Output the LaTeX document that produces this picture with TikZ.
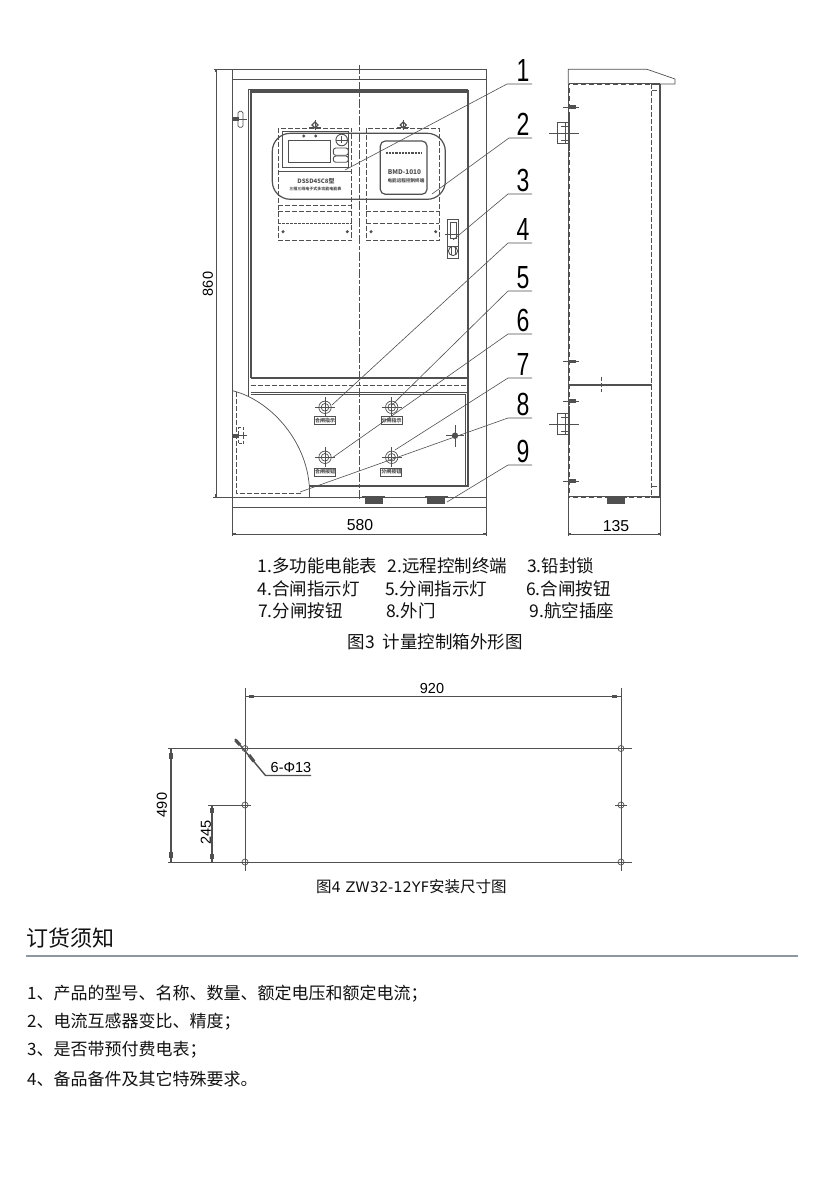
\documentclass[tikz,border=0pt]{standalone}
\usepackage{fontspec}
\setmainfont{Noto Sans CJK SC}
\newfontfamily\cadfont{Liberation Sans}
\newfontfamily\latinwide{DejaVu Sans}
\usetikzlibrary{calc}
\definecolor{cad}{HTML}{505050}
\definecolor{txt}{HTML}{111111}
\definecolor{rulegray}{HTML}{8F989F}
\tikzset{
 thinline/.style={draw=cad,line width=0.7pt},
 heavyline/.style={draw=cad,line width=2.2pt},
 midline/.style={draw=cad,line width=1.2pt},
 dimline/.style={draw=cad,line width=1.4pt},
 dashline/.style={draw=cad,line width=0.8pt,dash pattern=on 5pt off 2pt},
 dashheavy/.style={draw=cad,line width=1.3pt,dash pattern=on 3pt off 1pt},
 centerl/.style={draw=cad,line width=0.7pt,dash pattern=on 9pt off 2pt on 4pt off 2pt},
 leaderline/.style={draw=cad,line width=0.6pt},
 tickline/.style={draw=cad,line width=2pt},
 bigtick/.style={draw=cad,line width=3.2pt},
 legendtext/.style={text=txt,anchor=west,inner sep=0pt,font=\fontsize{17.5}{17.5}\selectfont},
 listitem/.style={text=txt,anchor=west,inner sep=0pt,font=\fontsize{17}{17}\selectfont},
 digittext/.style={text=black,anchor=base,inner sep=0pt,font=\cadfont\fontsize{32}{32}\selectfont,xscale=0.72},
 dimtext/.style={text=black,inner sep=0pt,font=\cadfont\fontsize{14.5}{14.5}\selectfont},
 dimbig/.style={text=black,inner sep=0pt,font=\cadfont\fontsize{15.8}{15.8}\selectfont},
 tinytext/.style={text=cad,inner sep=0pt},
 plate/.style={draw=cad,line width=0.7pt,minimum width=21pt,minimum height=8pt,inner sep=0pt,text=cad,font=\bfseries\fontsize{5}{5}\selectfont},
}
\newcommand{\btnmark}[1]{%
 \draw[thinline] (#1) circle (6.2);
 \draw[thinline] (#1) circle (3.8);
 \draw[thinline] ($(#1)+(-10,0)$) -- ($(#1)+(10,0)$);
 \draw[thinline] ($(#1)+(0,-10)$) -- ($(#1)+(0,10)$);
}
\newcommand{\holemark}[1]{%
 \draw[thinline] (#1) circle (3);
}
\newcommand{\capmark}[1]{%
 \draw[midline] ($(#1)+(-3,0)$) -- ($(#1)+(0,-3)$) -- ($(#1)+(3,0)$) -- ($(#1)+(0,3)$) -- cycle;
 \draw[thinline] ($(#1)+(-6,2)$) -- ($(#1)+(6,2)$);
 \draw[thinline] ($(#1)+(0,-5)$) -- ($(#1)+(0,5)$);
}
\newcommand{\sidehinge}[1]{%
 \draw[thinline] ($(#1)+(-6,0)$) -- ($(#1)+(10,0)$);
 \fill[cad] ($(#1)+(0,-1.7)$) rectangle ($(#1)+(7,1.7)$);
}
\newcommand{\sidelock}[1]{%
 \draw[thinline] ($(#1)+(-12,-10.5)$) rectangle ($(#1)+(0,10.5)$);
 \draw[thinline] ($(#1)+(-8,-7)$) -- ($(#1)+(0,-7)$);
 \draw[thinline] ($(#1)+(-8,7)$) -- ($(#1)+(0,7)$);
 \draw[thinline] ($(#1)+(-4,-10.5)$) -- ($(#1)+(-4,10.5)$);
 \draw[thinline] ($(#1)+(-20,0)$) -- ($(#1)+(10,0)$);
 \draw[draw=cad,line width=1.5pt] ($(#1)+(0.5,-18)$) -- ($(#1)+(0.5,18)$);
}
\newcommand{\plugmark}[1]{%
 \fill[cad] ($(#1)+(-9,0)$) rectangle ($(#1)+(9,6.5)$);
 \draw[midline] ($(#1)+(-11,0)$) -- ($(#1)+(-11,-1.5)$);
 \draw[midline] ($(#1)+(11,0)$) -- ($(#1)+(11,-1.5)$);
 \draw[midline] ($(#1)+(-11,0)$) -- ($(#1)+(11,0)$);
}
\begin{document}
\begin{tikzpicture}[x=1pt,y=-1pt]
\useasboundingbox (0,0) rectangle (827,1182);
\fill[white] (0,0) rectangle (827,1182);

%%% FRONT VIEW
\draw[thinline] (232.5,69.3) rectangle (486.7,507.3);
\draw[thinline] (232.5,79.3) -- (486.7,79.3);
\draw[thinline] (232.5,507.3) -- (232.5,536);
\draw[thinline] (486.7,507.3) -- (486.7,536);
\draw[thinline] (214,69.3) -- (232.5,69.3);
\draw[thinline] (213,497) -- (486.7,497);
\draw[thinline] (216,69.3) -- (216,497);
\draw[tickline] (216,69.3) -- (216,72);
\draw[tickline] (216,494) -- (216,497);
\draw[thinline] (232.5,534) -- (486.7,534);
\draw[tickline] (232.5,534) -- (236,534);
\draw[tickline] (483,534) -- (486.7,534);
\node[dimtext,rotate=90] (dimA) at (208,284) {860};
\node[dimbig] (dimB) at (360,525) {580};

% centre line
\draw[centerl] (359.3,65) -- (359.3,501);

% door frame
\draw[thinline] (248.7,89.3) -- (468.3,89.3);
\draw[thinline] (248.7,89.3) -- (248.7,397);
\draw[heavyline] (250.7,91.5) -- (467.7,91.5);
\draw[heavyline] (250.7,90.5) -- (250.7,378);
\draw[heavyline] (467.7,90.5) -- (467.7,486.5);
\draw[heavyline] (250.7,378) -- (467.7,378);
\draw[dashline] (250.7,385) -- (467,385);
\draw[thinline] (250.7,392.7) -- (467,392.7);
\draw[thinline] (250.7,394) -- (465.3,394);
\draw[thinline] (465.3,394) -- (465.3,486);
\draw[heavyline] (309.3,486) -- (468.7,486);
\draw[thinline] (309.3,486) -- (309.3,497);
\draw[thinline] (232.5,390.7) .. controls (270,400) and (306,440) .. (309.3,486);
\draw[dashline] (236.3,391.7) -- (236.3,493.3) -- (301,493.3);

% meters (dashed housings)
\draw[dashline] (278.3,128.3) rectangle (351.7,240.7);
\draw[dashline] (366.3,128.3) rectangle (439.3,240.7);
\draw[dashline] (278.3,205.7) -- (351.7,205.7);
\draw[dashline] (278.3,211) -- (351.7,211);
\draw[dashheavy] (278.3,223.3) -- (351.7,223.3);
\draw[dashline] (366.3,211) -- (439.3,211);
\draw[dashline] (366.3,223.3) -- (439.3,223.3);
\draw[midline,rounded corners=18pt] (272.3,133.3) rectangle (445.3,199.3);
\draw[thinline] (282.3,131) rectangle (348.3,167.3);
\draw[thinline] (278.3,171.3) -- (351.7,171.3);
\draw[thinline,line width=0.9pt] (288.3,140.3) rectangle (330.3,162.3);
\fill[cad] (303.7,136) circle (1.6);
\fill[cad] (315.7,136) circle (1.6);
\draw[thinline,line width=0.9pt] (341.7,140) circle (5.8);
\draw[thinline] (336,140) -- (347.5,140);
\draw[thinline] (341.7,136) -- (341.7,143);
\draw[thinline,line width=0.9pt,rounded corners=2.5pt] (333.3,148) rectangle (348.3,155.3);
\draw[thinline,line width=0.9pt,rounded corners=2.5pt] (333.3,156) rectangle (348.3,162.3);
\node[tinytext,font=\bfseries\fontsize{6}{6}\selectfont] (meterA) at (316,180.7) {DSSD45C8型};
\node[tinytext,font=\bfseries\fontsize{4}{4}\selectfont] (meterB) at (315.3,189.3) {三相三线电子式多功能电能表};
\draw[midline,rounded corners=5pt] (380.3,141) rectangle (427,194.3);
\draw[draw=cad,line width=2.2pt,dash pattern=on 2.2pt off 1pt] (385.7,152.7) -- (422.3,152.7);
\node[tinytext,font=\bfseries\fontsize{6.5}{6.5}\selectfont] (termA) at (404.5,172) {BMD-1010};
\node[tinytext,font=\bfseries\fontsize{4.6}{4.6}\selectfont] (termB) at (406,180.7) {电能远程控制终端};
\fill[cad] (283,231.7) circle (1.7);
\fill[cad] (347.3,231.7) circle (1.7);
\fill[cad] (371,231.7) circle (1.7);
\fill[cad] (435.7,231.7) circle (1.7);
\capmark{315,125}
\capmark{403.3,125}

% seal lock
\draw[midline] (447.3,219.3) rectangle (458.7,258.7);
\draw[thinline] (450,222.7) rectangle (456.7,238.3);
\draw[thinline] (447.3,246) -- (458.7,246);
\draw[thinline,line width=0.9pt] (453,251) circle (4.6);
\draw[thinline] (451,247) -- (451,255);
\draw[thinline] (455,247) -- (455,255);
\draw[thinline] (445,234.5) -- (458,234.5);

% left hinges
\fill[cad] (233,117.3) rectangle (239,121.3);
\draw[thinline,rounded corners=1.5pt] (238,111.3) -- (243,111.3) -- (243,127.3) -- (238,127.3) -- cycle;
\draw[thinline] (238,119.3) -- (247,119.3);
\fill[cad] (233,433.7) rectangle (239,437.7);
\draw[dashline,dash pattern=on 3pt off 1.5pt] (238,427.7) -- (243,427.7) -- (243,443.7) -- (238,443.7) -- cycle;
\draw[thinline] (238,435.7) -- (247,435.7);

% buttons and plates
\btnmark{325,407.3}
\btnmark{391.7,407.3}
\btnmark{325,457.3}
\btnmark{391.7,457.3}
\node[plate] (plateA) at (325,420.3) {合闸指示};
\node[plate] (plateB) at (391.7,420.3) {分闸指示};
\node[plate] (plateC) at (325,472) {合闸按钮};
\node[plate] (plateD) at (391.3,472) {分闸按钮};
\fill[cad] (455,435.7) circle (3.2);
\draw[thinline] (446,435.7) -- (464,435.7);
\draw[thinline] (455,425) -- (455,447);
\plugmark{373.5,497}
\plugmark{436.3,497}

% leaders
\coordinate (s1) at (345,170); \coordinate (e1) at (507,84); \coordinate (f1) at (532,84);
\coordinate (s2) at (432,194); \coordinate (e2) at (509,138); \coordinate (f2) at (532,138);
\coordinate (s3) at (453,240); \coordinate (e3) at (508,194); \coordinate (f3) at (532,194);
\coordinate (s4) at (332,405); \coordinate (e4) at (508,243); \coordinate (f4) at (532,243);
\coordinate (s5) at (392,405); \coordinate (e5) at (508,291); \coordinate (f5) at (532,291);
\coordinate (s6) at (332,458); \coordinate (e6) at (508,334); \coordinate (f6) at (532,334);
\coordinate (s7) at (395,450); \coordinate (e7) at (508,378); \coordinate (f7) at (532,378);
\coordinate (s8) at (300,492); \coordinate (e8) at (508,418); \coordinate (f8) at (532,418);
\coordinate (s9) at (447,502); \coordinate (e9) at (508,465); \coordinate (f9) at (532,465);
\foreach \i in {1,...,9} {\draw[leaderline] (s\i) -- (e\i) -- (f\i);}
\node[digittext] (n1) at (523,81.5) {1};
\node[digittext] (n2) at (523,135.5) {2};
\node[digittext] (n3) at (523,191.5) {3};
\node[digittext] (n4) at (523,240.5) {4};
\node[digittext] (n5) at (523,288.5) {5};
\node[digittext] (n6) at (523,331.5) {6};
\node[digittext] (n7) at (523,375.5) {7};
\node[digittext] (n8) at (523,415.5) {8};
\node[digittext] (n9) at (523,462.5) {9};

%%% SIDE VIEW
\draw[thinline] (568.3,84) -- (568.3,69.3) -- (647,69.3) -- (675,79) -- (675,84) -- (660,84);
\draw[heavyline,line width=1.8pt] (569,84) -- (660.3,84);
\draw[heavyline] (660.3,84) -- (660.3,497);
\draw[heavyline,line width=1.8pt] (569,497) -- (660.3,497);
\draw[heavyline,line width=1.8pt] (569,84) -- (569,497);
\draw[white,line width=0.8pt,dash pattern=on 3pt off 5pt] (569.5,85) -- (569.5,497);
\draw[white,line width=0.8pt,dash pattern=on 3pt off 5pt] (570,84) -- (651,84);
\draw[white,line width=0.8pt,dash pattern=on 3pt off 5pt] (570,497) -- (651,497);
\draw[dashline] (651.7,84) -- (651.7,497);
\draw[heavyline,line width=1.6pt] (569,384.7) -- (651.7,384.7);
\draw[thinline,dash pattern=on 4pt off 2pt] (601,377) -- (601,392);
\draw[dashline] (652,90) -- (660,90);
\draw[dashline] (652,486) -- (660,486);
\sidehinge{569,107}
\sidehinge{569,361.7}
\sidehinge{569,401}
\sidehinge{569,481}
\sidelock{569,133}
\sidelock{569,424.3}
\plugmark{615.5,497}
\draw[thinline] (568.3,497) -- (568.3,536);
\draw[thinline] (660.3,497) -- (660.3,536);
\draw[thinline] (568.3,534) -- (660.3,534);
\draw[tickline] (568.3,534) -- (571,534);
\draw[tickline] (657.5,534) -- (660.3,534);
\node[dimbig] (dimC) at (616,526) {135};

%%% LEGEND
\node[legendtext] (t1) at (257.5,566) {1.多功能电能表};
\node[legendtext] (t2) at (387.5,566) {2.远程控制终端};
\node[legendtext] (t3) at (527,566) {3.铅封锁};
\node[legendtext] (t4) at (257.5,589) {4.合闸指示灯};
\node[legendtext] (t5) at (385,589) {5.分闸指示灯};
\node[legendtext] (t6) at (526,589) {6.合闸按钮};
\node[legendtext] (t7) at (258,611) {7.分闸按钮};
\node[legendtext] (t8) at (386,611) {8.外门};
\node[legendtext] (t9) at (529.5,611) {9.航空插座};
\node[legendtext] (cap3) at (347.5,642) {图3\hspace{8pt}计量控制箱外形图};

%%% MOUNTING DRAWING
\draw[thinline] (245,688) -- (245,871);
\draw[thinline] (621,688) -- (621,871);
\draw[thinline] (168,748.5) -- (632,748.5);
\draw[thinline] (168,862) -- (632,862);
\draw[thinline] (208,805) -- (251,805);
\draw[thinline] (615,805) -- (627,805);
\draw[dimline] (245,696.5) -- (621,696.5);
\draw[bigtick] (249,696.5) -- (254,696.5);
\draw[bigtick] (612,696.5) -- (617,696.5);
\draw[dimline] (171,749) -- (171,862);
\draw[bigtick] (171,753) -- (171,759);
\draw[bigtick] (171,852) -- (171,858);
\draw[dimline] (212,805) -- (212,862);
\draw[bigtick] (212,808) -- (212,813);
\draw[bigtick] (212,854) -- (212,859);
\node[dimtext] (dimD) at (432,688.5) {920};
\node[dimtext,rotate=90] (dimE) at (162,805) {490};
\node[dimtext,rotate=90] (dimF) at (206,832.5) {245};
\foreach \p in {245,621} {\holemark{\p,748.5}\holemark{\p,805}\holemark{\p,862}}
\coordinate (ma) at (235,739); \coordinate (mb) at (265.5,775.5); \coordinate (mc) at (311,775.5);
\draw[dimline] (ma) -- (mb) -- (mc);
\draw[bigtick] (235.5,740) -- (240,745);
\draw[bigtick] (249,755) -- (254,761.5);
\node[dimtext,anchor=west] (dimG) at (270.5,767.5) {6-Φ13};
\node[listitem,font=\fontsize{15.5}{15.5}\selectfont] (cap4) at (316,887) {图{\latinwide\fontsize{14.5}{14.5}\selectfont 4 ZW32-12YF}安装尺寸图};

%%% ORDERING NOTES
\node[text=txt,anchor=west,inner sep=0pt,font=\fontsize{22}{22}\selectfont] (head) at (26,938) {订货须知};
\coordinate (ra) at (26,956); \coordinate (rb) at (798,956);
\draw[draw=rulegray,line width=2pt] (ra) -- (rb);
\node[listitem] (i1) at (27,993.5) {1、产品的型号、名称、数量、额定电压和额定电流；};
\node[listitem] (i2) at (27,1022) {2、电流互感器变比、精度；};
\node[listitem] (i3) at (27,1050) {3、是否带预付费电表；};
\node[listitem] (i4) at (27,1079.5) {4、备品备件及其它特殊要求。};
\end{tikzpicture}
\end{document}
